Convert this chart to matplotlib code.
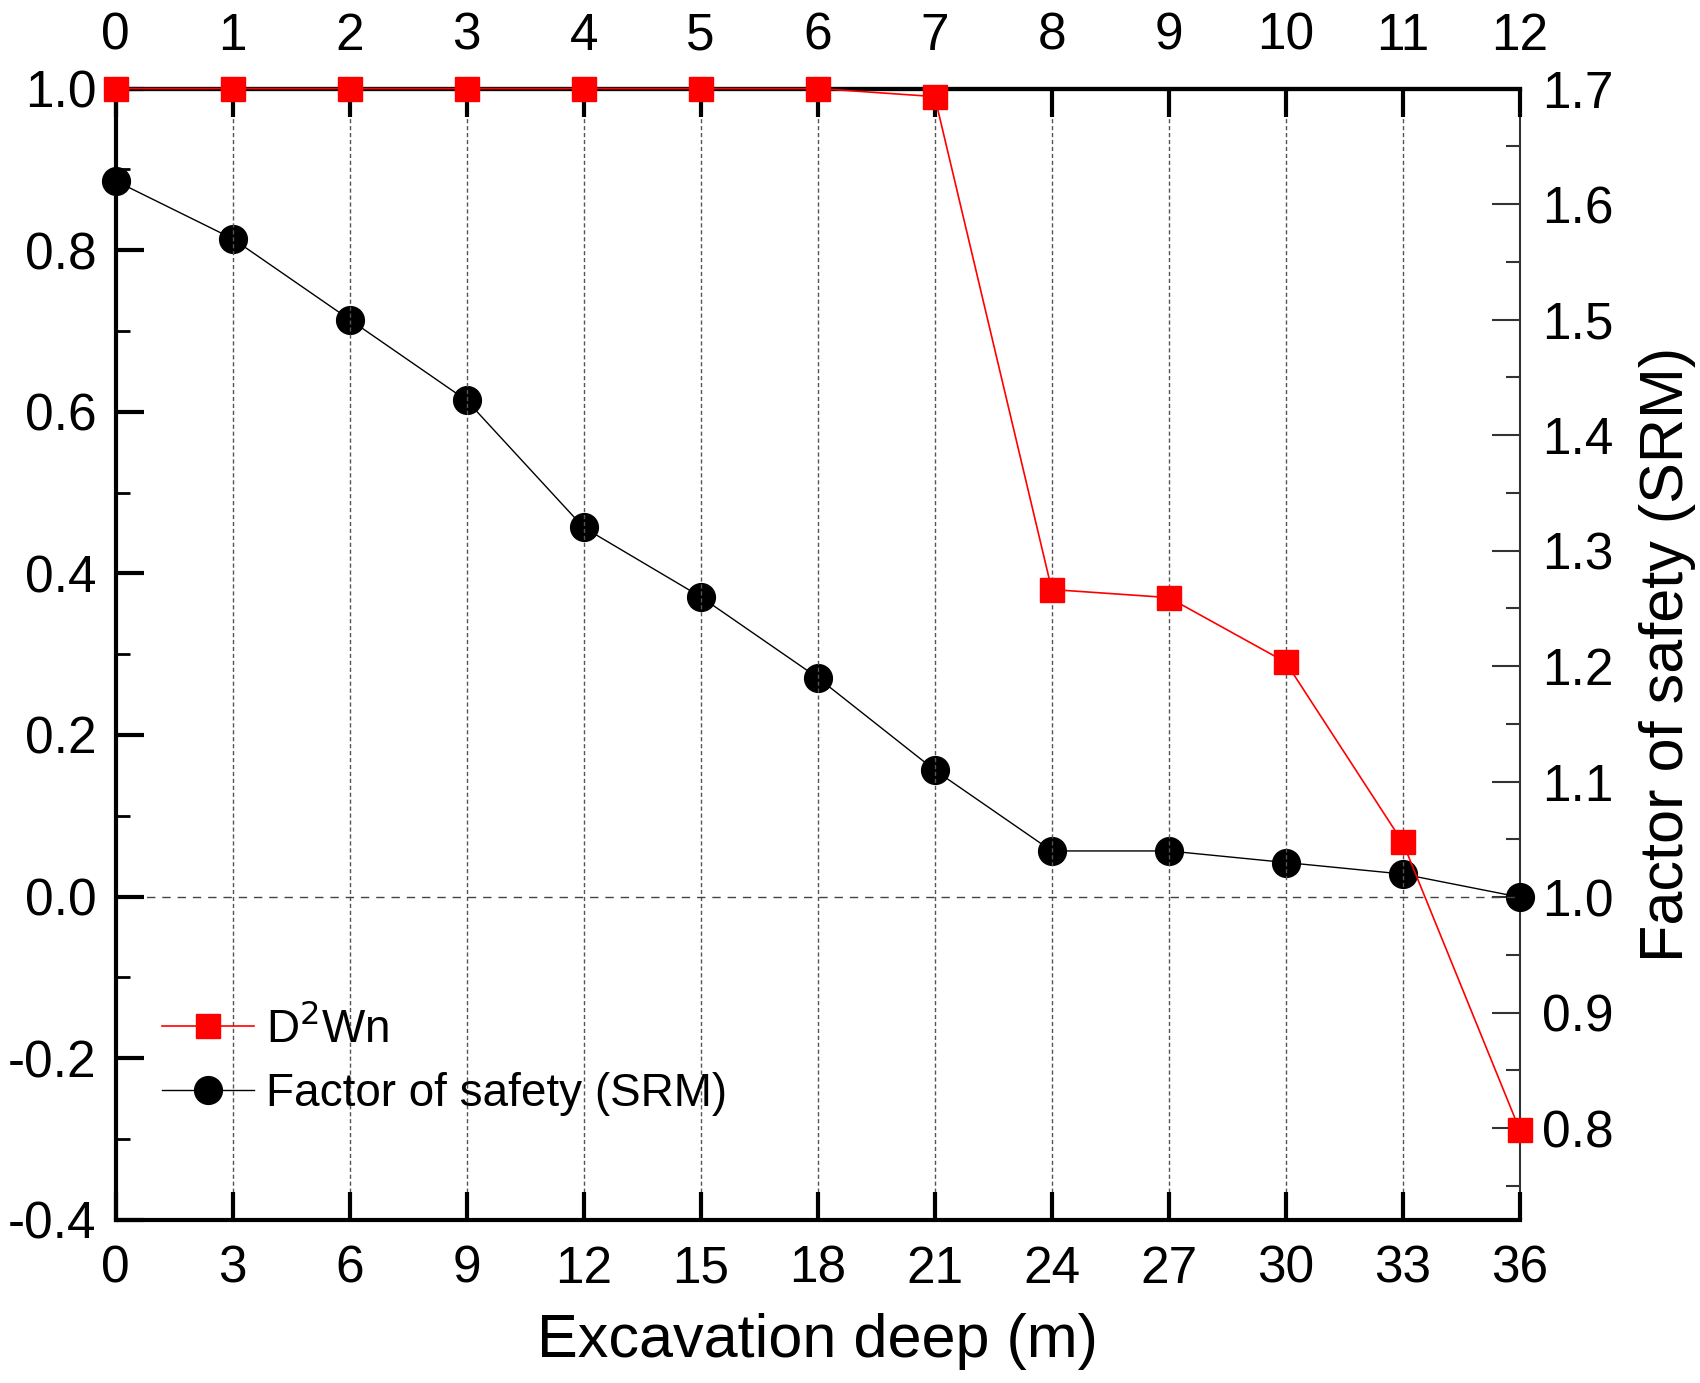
import numpy as np
import matplotlib.pyplot as plt
from matplotlib import font_manager

# excavation depth (m) and the two monitored quantities
depth = [0, 3, 6, 9, 12, 15, 18, 21, 24, 27, 30, 33, 36]
d2wn = [1.0, 1.0, 1.0, 1.0, 1.0, 1.0, 1.0, 0.99, 0.38, 0.37, 0.29, 0.067, -0.289]
fos = [1.62, 1.57, 1.50, 1.43, 1.32, 1.26, 1.19, 1.11, 1.04, 1.04, 1.03, 1.02, 1.00]
steps = list(range(13))

names = {f.name for f in font_manager.fontManager.ttflist}
fam = 'Liberation Sans Narrow' if 'Liberation Sans Narrow' in names else 'Liberation Sans'
plt.rcParams['font.family'] = [fam, 'DejaVu Sans']

fig = plt.figure(figsize=(17, 13.83), dpi=100)
ax = fig.add_axes([0.068, 0.118, 0.826, 0.818])
ax2 = ax.twinx()

# vertical guides and zero line
for d in depth[1:-1]:
    ax.axvline(d, color='#555555', lw=1, ls=(0, (3, 2)), zorder=0)
ax.axhline(0, color='#444444', lw=1, ls=(0, (6, 5)), zorder=0)

l2, = ax2.plot(depth, fos, color='black', lw=1, marker='o', ms=20,
               mfc='black', mec='black', label='Factor of safety (SRM)',
               clip_on=False, zorder=3)
l1, = ax.plot(depth, d2wn, color='red', lw=1.2, marker='s', ms=17,
              mfc='red', mec='red', label='D$^2$Wn', clip_on=False, zorder=4)
ax.set_zorder(ax2.get_zorder() + 1)
ax.patch.set_visible(False)

ax.set_xlim(0, 36)
ax.set_ylim(-0.4, 1.0)
ax.set_xticks(depth)
ax.set_yticks(np.arange(-0.4, 1.01, 0.2))
ax.set_yticklabels(['-0.4', '-0.2', '0.0', '0.2', '0.4', '0.6', '0.8', '1.0'])
ax.set_yticks(np.arange(-0.3, 1.0, 0.2), minor=True)
ax2.set_ylim(0.7207, 1.7)
ax2.set_yticks(np.arange(0.8, 1.71, 0.1))
ax2.set_yticklabels([f'{v:.1f}' for v in np.arange(0.8, 1.71, 0.1)])
ax2.set_yticks(np.arange(0.75, 1.7, 0.1), minor=True)

for s in ['left', 'bottom', 'top']:
    ax.spines[s].set_linewidth(3)
ax.spines['right'].set_visible(False)
for s in ['left', 'bottom', 'top']:
    ax2.spines[s].set_visible(False)
ax2.spines['right'].set_linewidth(1.5)
ax2.spines['right'].set_color('#333333')

ax.tick_params(axis='x', which='major', direction='in', length=20, width=3,
               labelsize=37, pad=18)
ax.tick_params(axis='y', which='major', direction='in', length=20, width=3,
               labelsize=37, pad=14)
ax.tick_params(axis='y', which='minor', direction='in', length=10, width=2)
ax2.tick_params(axis='y', which='major', direction='in', length=20, width=1.5,
                labelsize=37, pad=16, color='#333333')
ax2.tick_params(axis='y', which='minor', direction='in', length=10, width=1.5,
                color='#333333')

# step numbers along the top
top = ax.secondary_xaxis('top', functions=(lambda x: x / 3, lambda s: s * 3))
top.set_xticks(steps)
top.spines['top'].set_linewidth(3)
top.tick_params(direction='in', length=20, width=3, labelsize=37, pad=20)

ax.set_xlabel('Excavation deep (m)', fontsize=44, labelpad=14)
ax2.set_ylabel('Factor of safety (SRM)', fontsize=44, labelpad=18)

ax.legend([l1, l2], ['D$^2$Wn', 'Factor of safety (SRM)'], loc='lower left',
          bbox_to_anchor=(0.004, 0.055), frameon=False, fontsize=33,
          handlelength=2.0, handletextpad=0.25, labelspacing=0.45)

fig.savefig('out.png', dpi=100)
